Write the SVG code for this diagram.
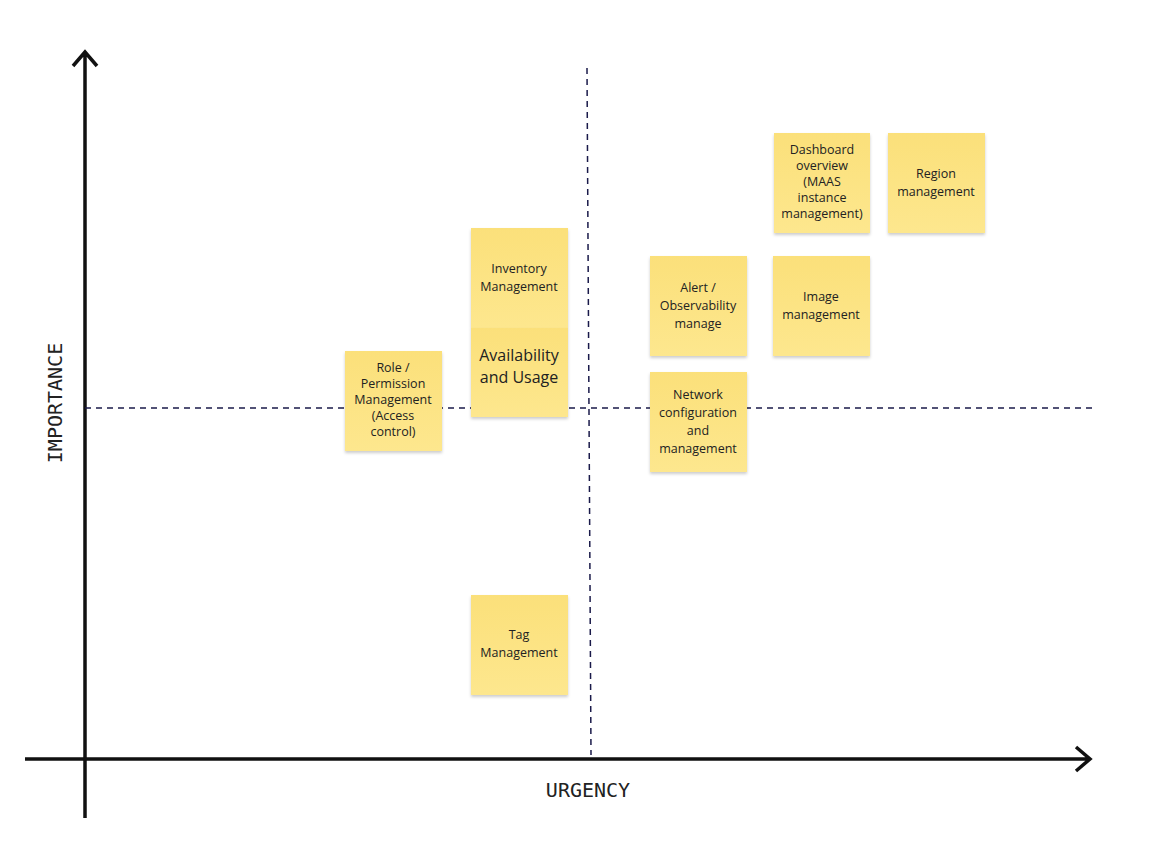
<svg xmlns="http://www.w3.org/2000/svg" width="1159" height="850" viewBox="0 0 1159 850">
<style>
.n{font-family:"Open Sans","Noto Sans",sans-serif;font-size:12.5px;fill:#222;text-anchor:middle}
.big{font-size:16px}
.ax{font-family:"DejaVu Sans Mono","Liberation Mono",monospace;font-size:20px;fill:#222;text-anchor:middle}
</style>
<defs>
<linearGradient id="g" x1="0" y1="0" x2="0" y2="1"><stop offset="0" stop-color="#fbe07a"/><stop offset="1" stop-color="#fde78e"/></linearGradient>
<filter id="s" x="-10%" y="-10%" width="120%" height="125%"><feDropShadow dx="0" dy="2" stdDeviation="1.5" flood-opacity="0.2"/></filter>
</defs>
<rect width="1159" height="850" fill="#fff"/>
<g id="connectors" fill="none">
<path d="M85 818V54M73 66L85 52L97 66" stroke="#111" stroke-width="3.5"/>
<path d="M25 759H1088M1076 747L1090 759L1076 771" stroke="#111" stroke-width="3.5"/>
<path d="M587 68L591 755" stroke="#1a1a4a" stroke-width="1.5" stroke-dasharray="6 5"/>
<path d="M85 408H1095" stroke="#1a1a4a" stroke-width="1.5" stroke-dasharray="6 5"/>
</g>
<text class="ax" transform="translate(62 403) rotate(-90)">IMPORTANCE</text>
<text class="ax" x="588" y="797">URGENCY</text>
<g id="dashboard"><rect x="774" y="133" width="96" height="100" fill="url(#g)" filter="url(#s)"/><text class="n" x="822" y="154">Dashboard<tspan x="822" dy="16">overview</tspan><tspan x="822" dy="16">(MAAS</tspan><tspan x="822" dy="16">instance</tspan><tspan x="822" dy="16">management)</tspan></text></g>
<g id="region"><rect x="888" y="133" width="97" height="100" fill="url(#g)" filter="url(#s)"/><text class="n" x="936" y="178">Region<tspan x="936" dy="18">management</tspan></text></g>
<g id="inventory"><rect x="471" y="228" width="97" height="100" fill="url(#g)" filter="url(#s)"/><text class="n" x="519" y="273">Inventory<tspan x="519" dy="18">Management</tspan></text></g>
<g id="availability"><rect x="471" y="328" width="97" height="89" fill="url(#g)" filter="url(#s)"/><text class="n big" x="519" y="361">Availability<tspan x="519" dy="22">and Usage</tspan></text></g>
<g id="alert"><rect x="650" y="256" width="97" height="100" fill="url(#g)" filter="url(#s)"/><text class="n" x="698" y="292">Alert /<tspan x="698" dy="18">Observability</tspan><tspan x="698" dy="18">manage</tspan></text></g>
<g id="image"><rect x="773" y="256" width="97" height="100" fill="url(#g)" filter="url(#s)"/><text class="n" x="821" y="301">Image<tspan x="821" dy="18">management</tspan></text></g>
<g id="role"><rect x="345" y="351" width="97" height="100" fill="url(#g)" filter="url(#s)"/><text class="n" x="393" y="372">Role /<tspan x="393" dy="16">Permission</tspan><tspan x="393" dy="16">Management</tspan><tspan x="393" dy="16">(Access</tspan><tspan x="393" dy="16">control)</tspan></text></g>
<g id="network"><rect x="650" y="372" width="97" height="100" fill="url(#g)" filter="url(#s)"/><text class="n" x="698" y="399">Network<tspan x="698" dy="18">configuration</tspan><tspan x="698" dy="18">and</tspan><tspan x="698" dy="18">management</tspan></text></g>
<g id="tag"><rect x="471" y="595" width="97" height="100" fill="url(#g)" filter="url(#s)"/><text class="n" x="519" y="639">Tag<tspan x="519" dy="18">Management</tspan></text></g>
</svg>
